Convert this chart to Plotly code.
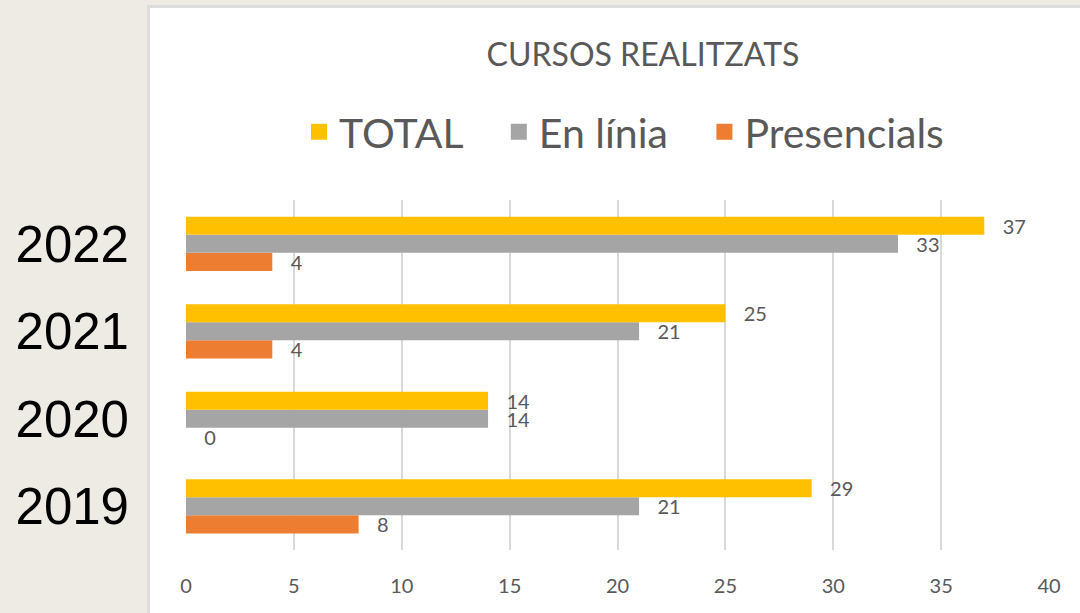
import plotly.graph_objects as go

years = ["2019", "2020", "2021", "2022"]
total = [29, 14, 25, 37]
en_linia = [21, 14, 21, 33]
presencials = [8, 0, 4, 4]
x_ticks = [0, 5, 10, 15, 20, 25, 30, 35, 40]

title_text = "CURSOS REALITZATS"
series = [
    ("Presencials", presencials, "#ED7D31"),
    ("En línia", en_linia, "#A5A5A5"),
    ("TOTAL", total, "#FFC000"),
]

W, H = 1080, 613
L, R, T, B = 186, 31, 200, 63
pw, ph = W - L - R, H - T - B

def px_x(p):
    return (p - L) / pw

def px_y(p):
    return (H - B - p) / ph

fig = go.Figure()
for name, vals, col in series:
    fig.add_trace(go.Bar(
        y=years, x=vals, name=name, orientation="h",
        marker=dict(color=col, line=dict(width=0)),
        text=vals, texttemplate="\u00a0\u00a0\u00a0%{x}",
        textposition="outside", constraintext="none", cliponaxis=False,
        textfont=dict(family="Lato", size=20, color="#595959"),
        showlegend=False,
    ))
    fig.add_trace(go.Scatter(
        x=[None], y=[None], mode="markers",
        name=name + ("" if name == "Presencials" else "\u00a0\u00a0\u00a0"),
        marker=dict(symbol="square", size=16, color=col),
        showlegend=True,
    ))

fig.update_layout(
    width=W, height=H,
    margin=dict(l=L, r=R, t=T, b=B, pad=0),
    paper_bgcolor="#EEEBE4",
    plot_bgcolor="rgba(0,0,0,0)",
    barmode="group", bargap=0.38, bargroupgap=0,
    title=dict(text=title_text, x=px_x(643), xref="paper", xanchor="center",
               y=1 - 55 / H, yref="container", yanchor="middle",
               font=dict(family="Lato", size=32, color="#595959")),
    legend=dict(orientation="h", traceorder="reversed",
                x=px_x(624), xanchor="center", y=px_y(132), yanchor="middle",
                font=dict(family="Lato", size=41, color="#595959"),
                itemsizing="trace", bgcolor="rgba(0,0,0,0)"),
    xaxis=dict(range=[0, 40], tickvals=x_ticks, showgrid=True,
               gridcolor="#D9D9D9", gridwidth=2, zeroline=False,
               showline=False, ticks="", ticklabelstandoff=22,
               tickfont=dict(family="Lato", size=20, color="#595959"),
               fixedrange=True),
    yaxis=dict(type="category", categoryorder="array", categoryarray=years,
               showgrid=False, zeroline=False, showline=False, ticks="",
               ticklabelstandoff=56,
               tickfont=dict(family="Liberation Sans", size=51, color="#000000")),
    shapes=[dict(type="rect", xref="paper", yref="paper",
                 x0=px_x(148.5), x1=px_x(W + 10), y0=px_y(H + 10), y1=px_y(6.5),
                 fillcolor="#FFFFFF", line=dict(color="#DCDCDC", width=3),
                 layer="below")],
)

fig.write_html("out.html", config={"displayModeBar": False},
               post_script="document.body.style.margin='0';document.body.style.overflow='hidden';")
